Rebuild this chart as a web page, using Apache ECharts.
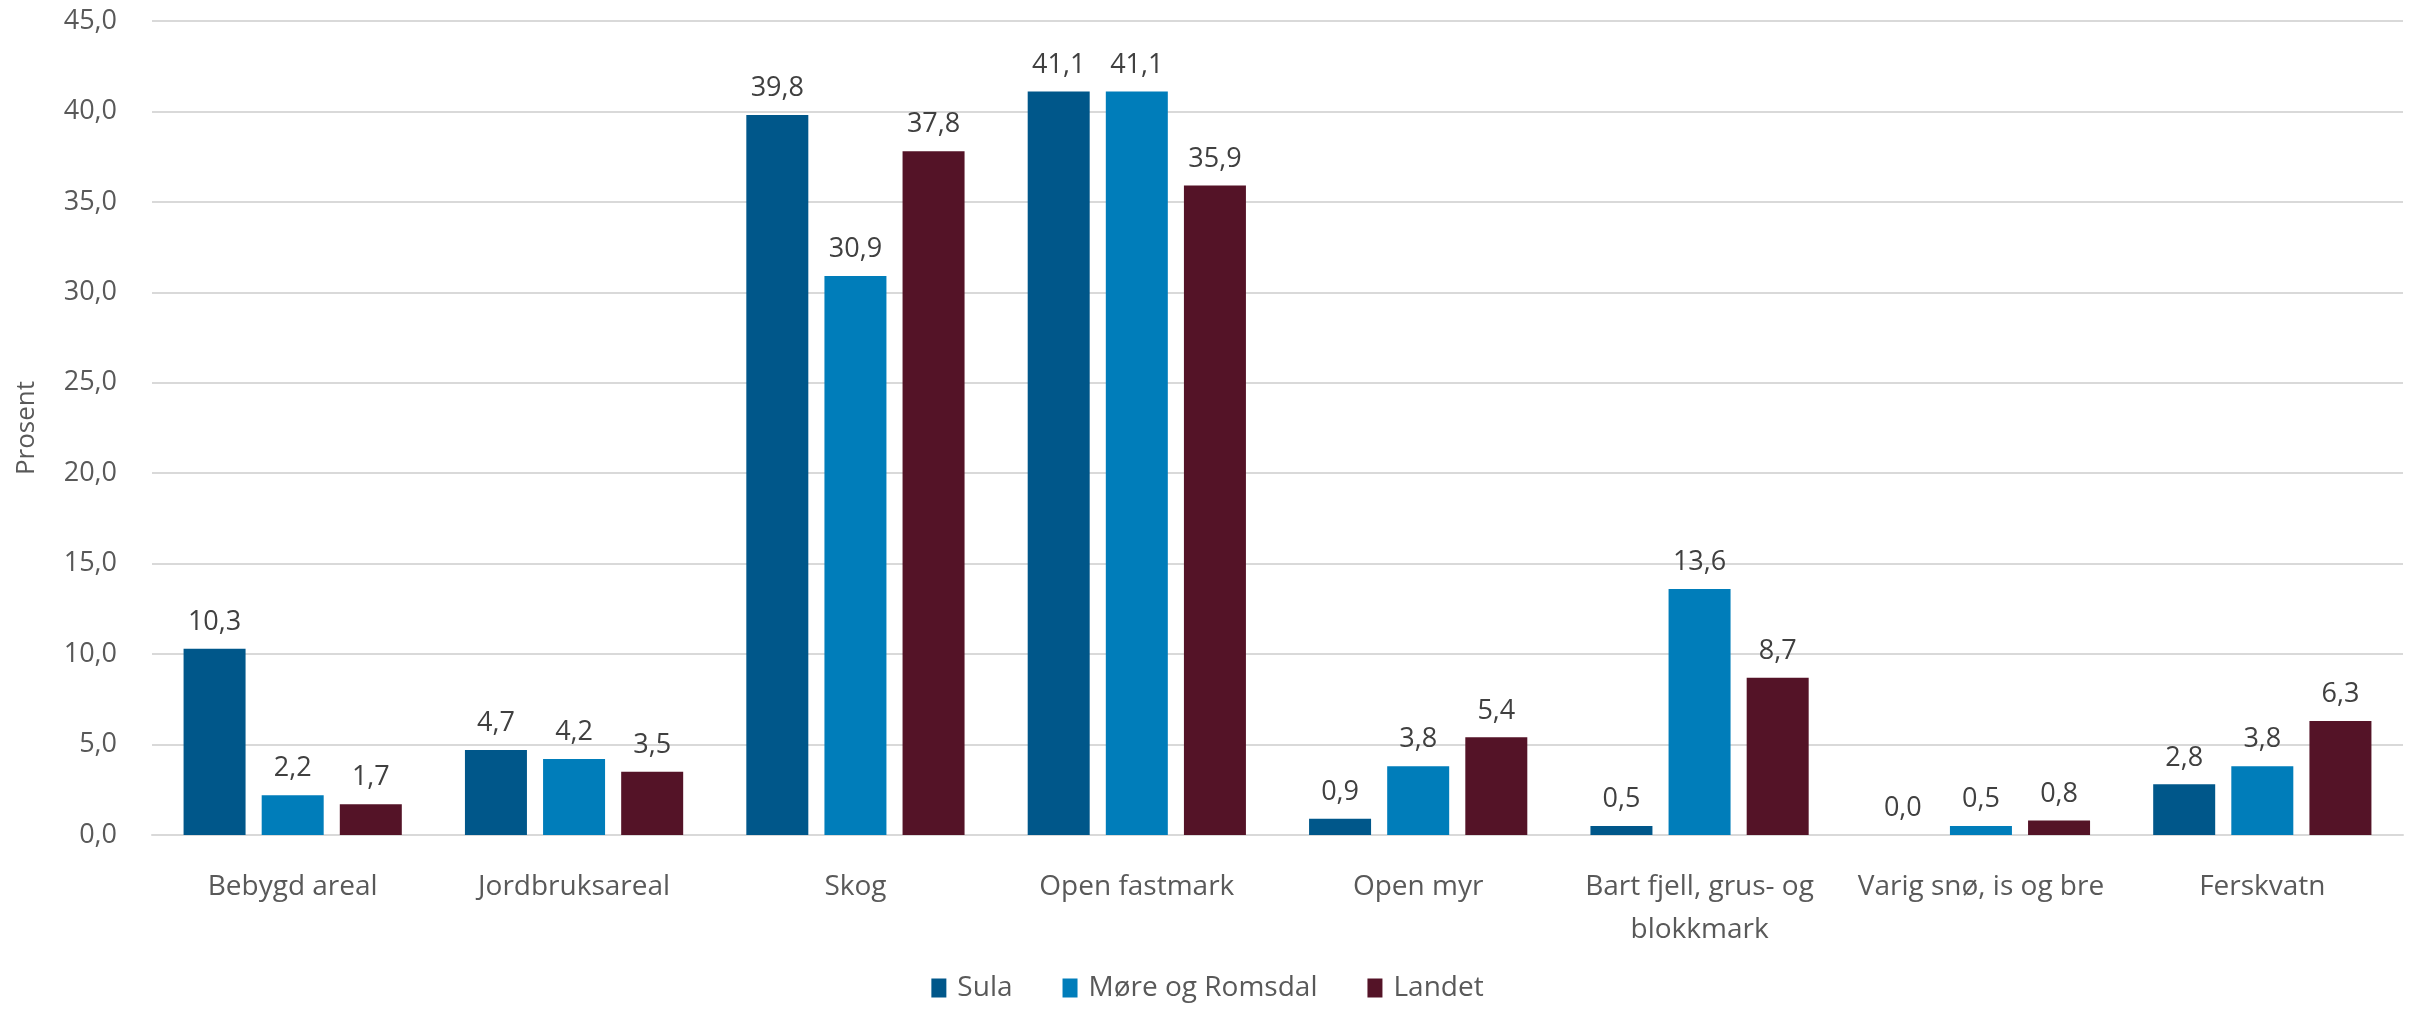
<!DOCTYPE html>
<html>
<head>
<meta charset="utf-8">
<script src="https://cdn.jsdelivr.net/npm/echarts@6/dist/echarts.min.js"></script>
<style>
html,body{margin:0;padding:0;background:#fff;}
#chart{width:2415px;height:1009px;}
</style>
</head>
<body>
<div id="chart"></div>
<script>
const categories = ["Bebygd areal","Jordbruksareal","Skog","Open fastmark","Open myr","Bart fjell, grus- og blokkmark","Varig snø, is og bre","Ferskvatn"];
const seriesNames = ["Sula","Møre og Romsdal","Landet"];
const sula = [10.3, 4.7, 39.8, 41.1, 0.9, 0.5, 0.0, 2.8];
const moreOgRomsdal = [2.2, 4.2, 30.9, 41.1, 3.8, 13.6, 0.5, 3.8];
const landet = [1.7, 3.5, 37.8, 35.9, 5.4, 8.7, 0.8, 6.3];
const colors = ["#00578A", "#007DBA", "#541327"];

const FONT = "'Open Sans', sans-serif";
const TXT = "#595959";
const FS = 28;
const fmt = v => Number(v).toFixed(1).replace('.', ',');

const chart = echarts.init(document.getElementById('chart'), null, {renderer: 'canvas'});
const mk = (name, data, color) => ({
  name, type: 'bar', data,
  itemStyle: {color},
  barWidth: 62,
  barGap: '26%',
  label: {show: true, position: 'top', distance: 13, formatter: p => fmt(p.value),
    color: '#404040', fontFamily: FONT, fontSize: 27}
});
chart.setOption({
  animation: false,
  textStyle: {fontFamily: FONT},
  grid: {left: 152, right: 12, top: 21, bottom: 174, containLabel: false},
  legend: {
    bottom: 2, left: 'center', itemWidth: 15, itemHeight: 19, itemGap: 50,
    icon: 'rect',
    textStyle: {color: TXT, fontFamily: FONT, fontSize: FS, padding: [0, 0, 0, 6]},
    data: seriesNames
  },
  xAxis: {
    type: 'category', data: categories,
    axisLine: {lineStyle: {color: '#d9d9d9', width: 2}},
    axisTick: {show: false},
    axisLabel: {color: TXT, fontFamily: FONT, fontSize: FS, margin: 31, interval: 0, lineHeight: 43,
      formatter: v => v.replace('grus- og ', 'grus- og\n')}
  },
  yAxis: {
    type: 'value', min: 0, max: 45, interval: 5,
    name: 'Prosent', nameLocation: 'middle', nameGap: 112,
    nameTextStyle: {color: TXT, fontFamily: FONT, fontSize: 26},
    axisLabel: {color: TXT, fontFamily: FONT, fontSize: 27, margin: 35, formatter: v => fmt(v)},
    splitLine: {lineStyle: {color: '#d9d9d9', width: 2}},
    axisLine: {show: false}, axisTick: {show: false}
  },
  series: [mk(seriesNames[0], sula, colors[0]), mk(seriesNames[1], moreOgRomsdal, colors[1]), mk(seriesNames[2], landet, colors[2])]
});
</script>
</body>
</html>
